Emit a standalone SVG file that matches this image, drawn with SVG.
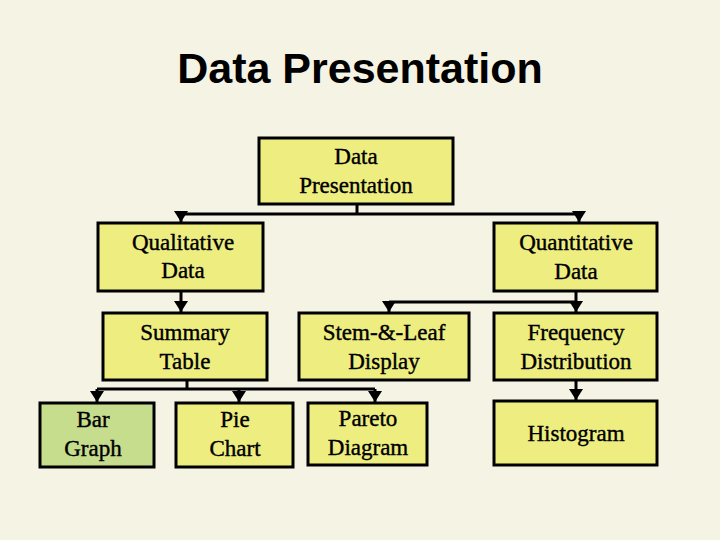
<svg xmlns="http://www.w3.org/2000/svg" width="720" height="540" viewBox="0 0 720 540">
<style>
.b{fill:#EEEE80;stroke:#000;stroke-width:3}
.g{fill:#C6DD8E;stroke:#000;stroke-width:3}
.t{font-family:"Liberation Serif",serif;font-size:23px;fill:#000;stroke:#000;stroke-width:0.4;text-anchor:middle}
.c{fill:none;stroke:#000;stroke-width:3}
</style>
<defs><marker id="m" viewBox="0 0 14 11" markerWidth="14" markerHeight="11" refX="7" refY="11" markerUnits="userSpaceOnUse"><path d="M0,0 L14,0 L7,11 Z" fill="#000"/></marker></defs>
<rect width="720" height="540" fill="#F5F3E4"/>
<text x="360" y="83" font-family="Liberation Sans,sans-serif" font-weight="bold" font-size="43" text-anchor="middle">Data Presentation</text>
<g id="connectors">
<path class="c" d="M357,204 V214 M181,214 H579"/>
<path class="c" d="M181,214 V222" marker-end="url(#m)"/>
<path class="c" d="M579,214 V222" marker-end="url(#m)"/>
<path class="c" d="M181,291 V312" marker-end="url(#m)"/>
<path class="c" d="M576,291 V302 M389,302 H576"/>
<path class="c" d="M389,302 V312" marker-end="url(#m)"/>
<path class="c" d="M576,302 V312" marker-end="url(#m)"/>
<path class="c" d="M187,380 V389 M97,389 H375"/>
<path class="c" d="M97,389 V402" marker-end="url(#m)"/>
<path class="c" d="M239,389 V402" marker-end="url(#m)"/>
<path class="c" d="M375,389 V402" marker-end="url(#m)"/>
<path class="c" d="M576,380 V400" marker-end="url(#m)"/>
</g>
<g id="root"><rect class="b" x="259" y="138" width="194" height="66"/><text class="t" x="356" y="164">Data</text><text class="t" x="356" y="193">Presentation</text></g>
<g id="qual"><rect class="b" x="98" y="223" width="165" height="68"/><text class="t" x="183" y="250">Qualitative</text><text class="t" x="183" y="278">Data</text></g>
<g id="quant"><rect class="b" x="494" y="223" width="163" height="68"/><text class="t" x="576" y="250">Quantitative</text><text class="t" x="576" y="279">Data</text></g>
<g id="summary"><rect class="b" x="103" y="313" width="164" height="67"/><text class="t" x="185" y="340">Summary</text><text class="t" x="185" y="369">Table</text></g>
<g id="stem"><rect class="b" x="299" y="313" width="170" height="67"/><text class="t" x="384" y="340">Stem-&amp;-Leaf</text><text class="t" x="384" y="369">Display</text></g>
<g id="freq"><rect class="b" x="494" y="313" width="163" height="67"/><text class="t" x="576" y="340">Frequency</text><text class="t" x="576" y="369">Distribution</text></g>
<g id="bar"><rect class="g" x="40" y="403" width="114" height="64"/><text class="t" x="93" y="427">Bar</text><text class="t" x="93" y="456">Graph</text></g>
<g id="pie"><rect class="b" x="176" y="403" width="117" height="64"/><text class="t" x="235" y="427">Pie</text><text class="t" x="235" y="456">Chart</text></g>
<g id="pareto"><rect class="b" x="308" y="403" width="119" height="62"/><text class="t" x="368" y="426">Pareto</text><text class="t" x="368" y="455">Diagram</text></g>
<g id="hist"><rect class="b" x="494" y="401" width="163" height="64"/><text class="t" x="576" y="441">Histogram</text></g>
</svg>
